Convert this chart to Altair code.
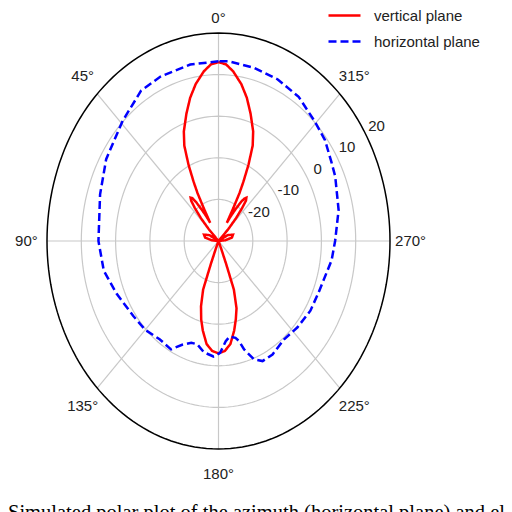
import altair as alt
import pandas as pd
import numpy as np

# ---------------- data ----------------
SERIES = ["vertical plane", "horizontal plane"]

RED_ANGLES = [0, 3, 6, 10, 13.5, 17, 21, 23.5, 25.5, 27, 28, 28.6, 29, 31, 33, 35, 36.5, 38, 39.5, 41, 43, 45, 47,
              55, 62, 70, 78, 85, 90, 150, 157, 158, 159, 162, 165, 168, 172, 176, 180,
              184, 188, 192, 195, 198, 201, 202, 203, 210, 270, 275, 282, 290, 298, 305, 313,
              315, 317, 319, 320.5, 322, 323.5, 325, 327, 329, 331, 331.4, 332, 333, 334.5, 336.5, 339,
              343, 346.5, 350, 354, 357, 360]
RED_DB = [13.0, 12.5, 11.0, 8.3, 5.4, 2.0, -1.8, -5.0, -9.7, -14, -17, -21, -25, -23, -21, -18.5, -17.2, -16.8,
          -17.5, -19.5, -22.5, -26, -30,
          -30, -27, -25.5, -26, -28, -30, -30, -28, -24, -17.5, -13.5, -10.5, -8, -5, -3.5, -3,
          -3.5, -5, -8, -10.5, -13, -17.5, -24, -28, -30, -30, -28, -26, -25.5, -27, -30, -30,
          -26, -22.5, -19.5, -17.4, -16.8, -17.3, -18.5, -21, -23, -25, -21, -17, -14, -9.7, -5, -1.8,
          2, 5.4, 8.3, 11, 12.5, 13.0]

BLUE_ANGLES = [0, 11, 23, 32, 44, 59, 72, 90, 102, 113, 126, 135, 144, 152, 157, 162, 166, 171, 177, 181,
               185, 188, 192, 194, 196, 200, 204, 210, 219, 228, 238, 247, 262, 270, 282, 294.5, 300,
               308, 316, 326, 336, 346, 356, 360]
BLUE_DB = [13.2, 13.2, 13.0, 12.6, 10.2, 8.2, 6.3, 5.0, 4.2, 2.3, 0.7, 0.2, -0.8, -0.5, -2.9, -4.3, -4.4,
           -2.9, -2.2, -3.1, -5.8, -6.8, -6.2, -5.2, -2.9, 0.3, 1.6, 1.5, 0.4, 1.0, 1.6, 1.7, 3.3, 4.0,
           5.8, 7.4, 8.0, 9.4, 10.2, 11.8, 12.5, 12.9, 13.3, 13.2]

FLOOR_DB = -30
RING_LEVELS = [-20, -10, 0, 10]
OUTER_LEVEL = 20
SPOKE_ANGLES = [0, 45, 90, 135, 180, 225, 270, 315]
ANGLE_TEXT = ["0°", "45°", "90°", "135°", "180°", "225°", "270°", "315°"]
ANGLE_LABEL_DB = [23.6, 26, 26, 26, 26, 26, 26, 26]
RADIAL_TICKS = [-20, -10, 0, 10, 20]
RADIAL_LABEL_ANGLE = 301
CAPTION = "Simulated polar plot of the azimuth (horizontal plane) and elevation (vertical plane)"

COLORS = ["#ff0000", "#0000ff"]
DASHES = [[1, 0], [8, 4]]

# ---------------- tables ----------------
pattern_df = pd.concat([
    pd.DataFrame({"series": SERIES[0], "i": range(len(RED_ANGLES)), "angle": RED_ANGLES, "db": RED_DB}),
    pd.DataFrame({"series": SERIES[1], "i": range(len(BLUE_ANGLES)), "angle": BLUE_ANGLES, "db": BLUE_DB}),
], ignore_index=True)

circle_angles = np.arange(0, 361, 2)
rings_df = pd.DataFrame([{"level": lv, "i": k, "angle": a, "db": lv}
                         for lv in RING_LEVELS for k, a in enumerate(circle_angles)])
outer_df = pd.DataFrame({"level": OUTER_LEVEL, "i": range(len(circle_angles)),
                         "angle": circle_angles, "db": OUTER_LEVEL})
spoke_df = pd.DataFrame({"angle": SPOKE_ANGLES, "db": OUTER_LEVEL})
alab_df = pd.DataFrame({"angle": SPOKE_ANGLES, "label": ANGLE_TEXT, "db": ANGLE_LABEL_DB})
rlab_df = pd.DataFrame({"angle": RADIAL_LABEL_ANGLE, "db": RADIAL_TICKS,
                        "label": [str(t) for t in RADIAL_TICKS]})

R = f"max(datum.db - ({FLOOR_DB}), 0)"
XE = f"-({R}) * sin(datum.angle * PI / 180)"
YE = f"({R}) * cos(datum.angle * PI / 180)"

SPAN = OUTER_LEVEL - FLOOR_DB
xs = alt.Scale(domain=[-SPAN, SPAN], nice=False, zero=False)
ys = alt.Scale(domain=[-SPAN, SPAN], nice=False, zero=False)
X = alt.X("x:Q", scale=xs, axis=None)
Y = alt.Y("y:Q", scale=ys, axis=None)

def polar(df):
    return alt.Chart(df).transform_calculate(x=XE, y=YE)

rings = polar(rings_df).mark_line(color="#c8c8c8", strokeWidth=1.2).encode(
    x=X, y=Y, detail="level:N", order="i:Q")

spokes = polar(spoke_df).transform_calculate(x0="0", y0="0").mark_rule(
    color="#c8c8c8", strokeWidth=1.2).encode(x=alt.X("x0:Q", scale=xs, axis=None),
                                             y=alt.Y("y0:Q", scale=ys, axis=None),
                                             x2="x:Q", y2="y:Q")

outer = polar(outer_df).mark_line(color="#000000", strokeWidth=1.5).encode(
    x=X, y=Y, order="i:Q")

lines = polar(pattern_df).mark_line(strokeWidth=2.5).encode(
    x=X, y=Y, order="i:Q",
    color=alt.Color("series:N", scale=alt.Scale(domain=SERIES, range=COLORS),
                    legend=alt.Legend(title=None, orient="none", legendX=280, legendY=-35,
                                      symbolType="stroke", symbolSize=1024, symbolStrokeWidth=2.5,
                                      labelFont="Liberation Sans", labelFontSize=15, labelColor="#222222",
                                      labelOffset=12, rowPadding=-5, padding=0)),
    strokeDash=alt.StrokeDash("series:N", scale=alt.Scale(domain=SERIES, range=DASHES), legend=None),
)

alabels = polar(alab_df).mark_text(font="Liberation Sans", fontSize=15, color="#222222",
                                   align="center", baseline="middle").encode(x=X, y=Y, text="label:N")

rlabels = polar(rlab_df).mark_text(font="Liberation Sans", fontSize=15, color="#222222",
                                   align="center", baseline="middle", dx=11, dy=-8).encode(
    x=X, y=Y, text="label:N")

chart = alt.layer(rings, spokes, outer, lines, alabels, rlabels).properties(
    width=343, height=416,
    padding={"left": 39, "top": 25, "right": 114, "bottom": 70},
    autosize=alt.AutoSizeParams(type="none"),
    title=alt.TitleParams(CAPTION, orient="bottom", anchor="start", frame="group", offset=21, dx=-39,
                          font="Liberation Serif", fontSize=20.5, fontWeight="normal", color="#000000",
                          baseline="top"),
).configure_view(stroke=None)

chart.save("out.html", embed_options={"renderer": "svg", "actions": False})
